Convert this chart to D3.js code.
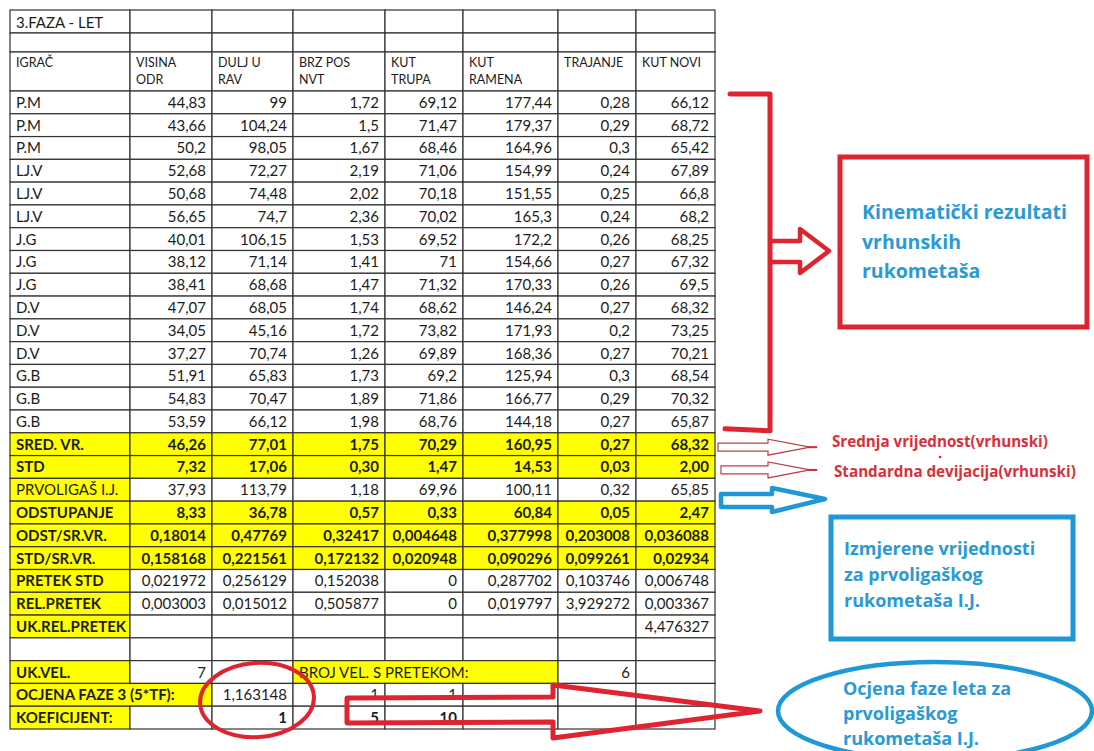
<!DOCTYPE html>
<html>
<head>
<meta charset="utf-8">
<script src="https://cdn.jsdelivr.net/npm/d3@7"></script>
<style>
  html, body { margin: 0; padding: 0; background: #fff; }
  svg { display: block; font-family: Lato, "Open Sans", sans-serif; }
  .cell { stroke: #333; stroke-width: 1.2; }
  .txt { font-size: 15px; fill: #1c1c1c; }
  .hdr { font-size: 12.5px; fill: #1c1c1c; }
  .note-red { font-family: "Open Sans", sans-serif; font-size: 15.2px; font-weight: 700; fill: #d8303a; }
  .note-blue { font-family: "Open Sans", sans-serif; font-size: 18px; font-weight: 700; fill: #2a9ad6; }
  .note-big { font-size: 19.5px; }
</style>
</head>
<body>
<svg id="sheet" width="1094" height="751" viewBox="0 0 1094 751"></svg>
<script>
/* 3.FAZA - LET — spreadsheet snapshot with hand-drawn notes on the right.
   Formatting uses decimal commas. */
(function () {
  var title = "3.FAZA - LET";
  var headers = ["IGRAČ", "VISINA\nODR", "DULJ U\nRAV", "BRZ POS\nNVT", "KUT\nTRUPA",
                 "KUT\nRAMENA", "TRAJANJE", "KUT NOVI"];

  var players    = ["P.M", "P.M", "P.M", "LJ.V", "LJ.V", "LJ.V", "J.G", "J.G", "J.G",
                    "D.V", "D.V", "D.V", "G.B", "G.B", "G.B"];
  var visinaOdr  = [44.83, 43.66, 50.2, 52.68, 50.68, 56.65, 40.01, 38.12, 38.41, 47.07, 34.05, 37.27, 51.91, 54.83, 53.59];
  var duljURav   = [99, 104.24, 98.05, 72.27, 74.48, 74.7, 106.15, 71.14, 68.68, 68.05, 45.16, 70.74, 65.83, 70.47, 66.12];
  var brzPosNvt  = [1.72, 1.5, 1.67, 2.19, 2.02, 2.36, 1.53, 1.41, 1.47, 1.74, 1.72, 1.26, 1.73, 1.89, 1.98];
  var kutTrupa   = [69.12, 71.47, 68.46, 71.06, 70.18, 70.02, 69.52, 71, 71.32, 68.62, 73.82, 69.89, 69.2, 71.86, 68.76];
  var kutRamena  = [177.44, 179.37, 164.96, 154.99, 151.55, 165.3, 172.2, 154.66, 170.33, 146.24, 171.93, 168.36, 125.94, 166.77, 144.18];
  var trajanje   = [0.28, 0.29, 0.3, 0.24, 0.25, 0.24, 0.26, 0.27, 0.26, 0.27, 0.2, 0.27, 0.3, 0.29, 0.27];
  var kutNovi    = [66.12, 68.72, 65.42, 67.89, 66.8, 68.2, 68.25, 67.32, 69.5, 68.32, 73.25, 70.21, 68.54, 70.32, 65.87];

  var sredVr     = [46.26, 77.01, 1.75, 70.29, 160.95, 0.27, 68.32];
  var stdVr      = [7.32, 17.06, 0.30, 1.47, 14.53, 0.03, 2.00];
  var prvoligas  = [37.93, 113.79, 1.18, 69.96, 100.11, 0.32, 65.85];
  var odstupanje = [8.33, 36.78, 0.57, 0.33, 60.84, 0.05, 2.47];
  var odstSrVr   = [0.18014, 0.47769, 0.32417, 0.004648, 0.377998, 0.203008, 0.036088];
  var stdSrVr    = [0.158168, 0.221561, 0.172132, 0.020948, 0.090296, 0.099261, 0.02934];
  var pretekStd  = [0.021972, 0.256129, 0.152038, 0, 0.287702, 0.103746, 0.006748];
  var relPretek  = [0.003003, 0.015012, 0.505877, 0, 0.019797, 3.929272, 0.003367];
  var ukRelPretek = 4.476327;
  var ukVel = 7;
  var brojSPretekom = 6;
  var ocjenaFaze = 1.163148;
  var ocjenaExtra = [1, 1];
  var koeficijent = [1, 5, 10];

  var notesRed  = ["Srednja vrijednost(vrhunski)", "Standardna devijacija(vrhunski)"];
  var boxRed    = ["Kinematički rezultati", "vrhunskih", "rukometaša"];
  var boxBlue   = ["Izmjerene vrijednosti", "za prvoligaškog", "rukometaša I.J."];
  var ovalBlue  = ["Ocjena faze leta za", "prvoligaškog", "rukometaša I.J."];

  var gen  = function (v) { return String(v).replace(".", ","); };
  var fix2 = function (v) { return v.toFixed(2).replace(".", ","); };

  // ---- rows of cells: {c: first column, s: span, t: text, a: anchor, y: yellow, b: bold}
  function valueRow(label, vals, fmt, allYellow, bold, labelBold) {
    var cells = [{ c: 0, s: 1, t: label, a: "start", y: true, b: labelBold }];
    vals.forEach(function (v, i) {
      cells.push({ c: i + 1, s: 1, t: fmt(v), a: "end", y: allYellow, b: bold });
    });
    return cells;
  }
  function blanks(from, to, cells) {
    for (var c = from; c <= to; c++) cells.push({ c: c, s: 1, t: "" });
    return cells;
  }

  var body = [];
  players.forEach(function (p, i) {
    var cells = [{ c: 0, s: 1, t: p, a: "start" }];
    [visinaOdr, duljURav, brzPosNvt, kutTrupa, kutRamena, trajanje, kutNovi].forEach(function (s, j) {
      cells.push({ c: j + 1, s: 1, t: gen(s[i]), a: "end" });
    });
    body.push(cells);
  });
  body.push(valueRow("SRED. VR.", sredVr, fix2, true, true, true));
  body.push(valueRow("STD", stdVr, fix2, true, true, true));
  body.push(valueRow("PRVOLIGAŠ I.J.", prvoligas, gen, false, false, false));
  body.push(valueRow("ODSTUPANJE", odstupanje, fix2, true, true, true));
  body.push(valueRow("ODST/SR.VR.", odstSrVr, gen, true, true, true));
  body.push(valueRow("STD/SR.VR.", stdSrVr, gen, true, true, true));
  body.push(valueRow("PRETEK STD", pretekStd, gen, false, false, true));
  body.push(valueRow("REL.PRETEK", relPretek, gen, false, false, true));
  var ukr = blanks(1, 6, [{ c: 0, s: 1, t: "UK.REL.PRETEK", a: "start", y: true, b: true }]);
  ukr.push({ c: 7, s: 1, t: gen(ukRelPretek), a: "end" });
  body.push(ukr);
  body.push(blanks(0, 7, []));
  body.push([
    { c: 0, s: 1, t: "UK.VEL.", a: "start", y: true, b: true },
    { c: 1, s: 1, t: gen(ukVel), a: "end" },
    { c: 2, s: 1, t: "" },
    { c: 3, s: 3, t: "BROJ VEL. S PRETEKOM:", a: "start", y: true },
    { c: 6, s: 1, t: gen(brojSPretekom), a: "end" },
    { c: 7, s: 1, t: "" }
  ]);
  body.push(blanks(5, 7, [
    { c: 0, s: 2, t: "OCJENA FAZE 3 (5*TF):", a: "start", y: true, b: true },
    { c: 2, s: 1, t: gen(ocjenaFaze), a: "end" },
    { c: 3, s: 1, t: gen(ocjenaExtra[0]), a: "end" },
    { c: 4, s: 1, t: gen(ocjenaExtra[1]), a: "end" }
  ]));
  body.push(blanks(5, 7, [
    { c: 0, s: 1, t: "KOEFICIJENT:", a: "start", y: true, b: true },
    { c: 1, s: 1, t: "" },
    { c: 2, s: 1, t: gen(koeficijent[0]), a: "end", b: true },
    { c: 3, s: 1, t: gen(koeficijent[1]), a: "end", b: true },
    { c: 4, s: 1, t: gen(koeficijent[2]), a: "end", b: true }
  ]));

  // ---- layout
  var colEdges = [10, 130, 212, 293, 385, 463, 558, 636, 715];
  var yRow = d3.scaleBand().domain(d3.range(body.length)).range([91, 729]);
  var rh = yRow.bandwidth();

  var svg = d3.select("#sheet");
  var gTab = svg.append("g");
  var gNote = svg.append("g");

  // top three rows (title, blank, header)
  var topRows = [{ y: 10, h: 23 }, { y: 33, h: 19 }, { y: 52, h: 39 }];
  topRows.forEach(function (r) {
    d3.range(8).forEach(function (c) {
      gTab.append("rect").attr("class", "cell")
        .attr("x", colEdges[c]).attr("y", r.y)
        .attr("width", colEdges[c + 1] - colEdges[c]).attr("height", r.h)
        .attr("fill", "#fff");
    });
  });
  gTab.append("text").attr("class", "txt").attr("x", colEdges[0] + 6).attr("y", 28).text(title);
  headers.forEach(function (h, c) {
    var t = gTab.append("text").attr("class", "hdr").attr("x", colEdges[c] + 6).attr("y", 67);
    h.split("\n").forEach(function (line, k) {
      t.append("tspan").attr("x", colEdges[c] + 6).attr("dy", k ? 17 : 0).text(line);
    });
  });

  // body rows
  body.forEach(function (cells, ri) {
    var y = yRow(ri);
    var g = gTab.append("g");
    g.selectAll("rect").data(cells).join("rect").attr("class", "cell")
      .attr("x", function (d) { return colEdges[d.c]; }).attr("y", y)
      .attr("width", function (d) { return colEdges[d.c + d.s] - colEdges[d.c]; })
      .attr("height", rh)
      .attr("fill", function (d) { return d.y ? "#ffff00" : "#fff"; });
    g.selectAll("text").data(cells.filter(function (d) { return d.t; })).join("text")
      .attr("class", "txt")
      .attr("x", function (d) { return d.a === "end" ? colEdges[d.c + d.s] - 6 : colEdges[d.c] + 6; })
      .attr("y", y + rh / 2 + 5.5)
      .attr("text-anchor", function (d) { return d.a; })
      .attr("font-weight", function (d) { return d.b ? 700 : 400; })
      .text(function (d) { return d.t; });
  });

  // ---- hand-drawn annotations
  var red = "#de2430", blue = "#1f98d8";
  var firstData = yRow(0), lastData = yRow(players.length - 1) + rh;
  var line = d3.line();

  // bracket around the top players
  gNote.append("path")
    .attr("d", line([[730, firstData + 3], [770, firstData + 3], [770, lastData - 2], [725, lastData - 4]]))
    .attr("fill", "none").attr("stroke", red).attr("stroke-width", 5)
    .attr("stroke-linejoin", "round").attr("stroke-linecap", "round");
  // hollow arrow to the red box
  gNote.append("path")
    .attr("d", line([[772, 241], [800, 241], [800, 229], [829, 251], [800, 273], [800, 262], [772, 262]]))
    .attr("fill", "none").attr("stroke", red).attr("stroke-width", 4.5).attr("stroke-linejoin", "round");
  gNote.append("rect").attr("x", 840).attr("y", 157).attr("width", 247).attr("height", 170)
    .attr("fill", "none").attr("stroke", red).attr("stroke-width", 5);
  boxRed.forEach(function (t, i) {
    gNote.append("text").attr("class", "note-blue note-big").attr("x", 862).attr("y", 219 + i * 29.5).text(t);
  });

  // thin outlined arrows for SRED / STD rows
  [0, 1].forEach(function (k) {
    var cy = yRow(players.length + k) + rh / 2 + 3;
    var x0 = 718 + k * 3;
    gNote.append("path")
      .attr("d", line([[x0, cy - 4], [768, cy - 4], [768, cy - 8], [810, cy], [768, cy + 8], [768, cy + 4], [x0, cy + 4]]) + "Z")
      .attr("fill", "#fff").attr("stroke", "#b84048").attr("stroke-width", 1.2);
    gNote.append("line").attr("x1", 808).attr("x2", 817).attr("y1", cy).attr("y2", cy)
      .attr("stroke", red).attr("stroke-width", 2);
    gNote.append("text").attr("class", "note-red").attr("x", 832 + k * 2).attr("y", 447 + k * 30).text(notesRed[k]);
  });
  gNote.append("circle").attr("cx", 940).attr("cy", 457).attr("r", 1.3).attr("fill", red);

  // blue arrow for the first-league player
  gNote.append("path")
    .attr("d", line([[721, 494], [772, 494], [772, 488], [825, 499], [772, 512], [772, 507], [721, 507]]) + "Z")
    .attr("fill", "none").attr("stroke", blue).attr("stroke-width", 4.5).attr("stroke-linejoin", "round");
  gNote.append("rect").attr("x", 831).attr("y", 517).attr("width", 242).attr("height", 122)
    .attr("fill", "none").attr("stroke", blue).attr("stroke-width", 5);
  boxBlue.forEach(function (t, i) {
    gNote.append("text").attr("class", "note-blue").attr("x", 844).attr("y", 555 + i * 26).text(t);
  });

  // red ellipse around the phase score and big arrow to the blue oval
  gNote.append("ellipse").attr("cx", 257).attr("cy", 700).attr("rx", 57).attr("ry", 37)
    .attr("transform", "rotate(-4 257 700)")
    .attr("fill", "none").attr("stroke", red).attr("stroke-width", 4);
  gNote.append("path")
    .attr("d", line([[347, 698], [553, 697], [553, 685], [760, 711], [553, 738], [553, 722], [347, 723]]) + "Z")
    .attr("fill", "none").attr("stroke", red).attr("stroke-width", 5).attr("stroke-linejoin", "round");
  gNote.append("ellipse").attr("cx", 935).attr("cy", 711).attr("rx", 157).attr("ry", 49)
    .attr("fill", "none").attr("stroke", blue).attr("stroke-width", 4.5);
  ovalBlue.forEach(function (t, i) {
    gNote.append("text").attr("class", "note-blue").attr("x", 843).attr("y", 695 + i * 25).text(t);
  });
})();
</script>
</body>
</html>
